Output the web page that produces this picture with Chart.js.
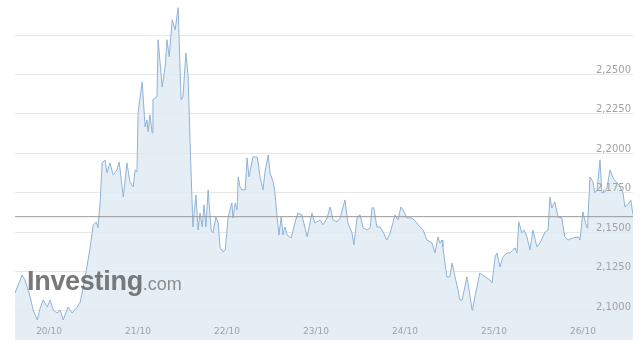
<!DOCTYPE html>
<html>
<head>
<meta charset="utf-8">
<script src="https://cdn.jsdelivr.net/npm/chart.js@4.4.1/dist/chart.umd.min.js"></script>
<style>
  html, body { margin: 0; padding: 0; background: #fff; }
  #wrap { position: relative; width: 640px; height: 354px; }
  #mark { position: absolute; left: 27px; top: 268px; line-height: 27px; white-space: nowrap;
          font-family: "Liberation Sans", Arial, sans-serif; pointer-events: none; }
  #mark .big { font-size: 27px; font-weight: bold; color: rgba(105,105,105,0.9); letter-spacing: -0.3px; }
  #mark .small { font-size: 18px; color: rgba(130,130,130,0.9); }
</style>
</head>
<body>
<div id="wrap">
  <canvas id="chart" width="640" height="354"></canvas>
  <div id="mark"><span class="big">Investing</span><span class="small">.com</span></div>
</div>
<script>
// hours from 20/10 00:00
const hours = [
  -9.2, -7.8, -7.3, -6.5, -5.9, -5.1, -4.3, -3.2, -2.4, -1.6, -0.5, 0.3, 1.1, 2.2, 3.0, 3.8,
  5.1, 6.2, 7.6, 8.4, 9.2, 10.2, 11.1, 11.9, 12.7, 13.2, 13.8, 14.3, 15.1, 15.6, 16.4, 17.3,
  18.3, 18.9, 20.0, 21.0, 21.8, 22.7, 23.2, 23.7, 24.0, 25.1, 25.9, 26.4, 26.7, 27.2, 27.8, 28.0,
  29.1, 29.4, 30.5, 31.3, 31.8, 32.4, 33.2, 34.0, 34.8, 35.6, 36.1, 36.9, 37.5, 38.0, 38.8, 39.6,
  40.2, 40.7, 41.3, 41.8, 42.3, 42.9, 43.7, 44.2, 45.0, 45.6, 46.1, 46.9, 47.5, 48.3, 49.3, 49.6,
  50.2, 50.7, 51.0, 51.5, 52.0, 52.9, 53.4, 53.9, 55.0, 56.1, 56.4, 56.9, 57.7, 58.2, 59.1, 59.6,
  60.4, 60.9, 61.5, 62.0, 62.6, 63.1, 63.6, 64.2, 65.3, 66.3, 67.1, 68.2, 69.6, 70.9, 71.7, 73.1,
  73.9, 75.0, 75.8, 76.6, 77.7, 78.5, 79.8, 80.6, 81.7, 82.2, 83.1, 83.9, 84.7, 85.8, 86.6, 87.1,
  87.6, 88.4, 89.3, 90.1, 91.1, 92.0, 93.3, 94.1, 94.9, 95.5, 96.5, 97.9, 99.2, 100.0, 100.9, 101.9,
  103.3, 104.1, 104.9, 105.4, 106.0, 106.2, 107.3, 108.1, 108.7, 109.5, 110.3, 110.8, 111.4, 112.7, 113.3, 114.1,
  114.3, 115.4, 116.2, 117.6, 118.9, 119.5, 120.3, 120.8, 121.6, 122.4, 123.5, 124.3, 125.1, 125.7, 126.2, 126.7,
  127.5, 128.1, 128.9, 129.7, 130.5, 131.6, 132.4, 133.8, 134.6, 135.1, 135.6, 136.4, 137.3, 138.3, 139.1, 140.0,
  141.3, 142.7, 143.2, 144.0, 144.5, 145.1, 145.3, 145.9, 146.7, 147.2, 147.8, 148.6, 149.1, 149.9, 150.5, 151.3,
  152.1, 153.2, 154.0, 154.8, 155.3, 156.1, 156.9, 157.5
];

const prices = [
  2.1114, 2.1197, 2.1228, 2.1197, 2.1152, 2.1089, 2.1006, 2.0943, 2.1019, 2.1070, 2.1025, 2.1070, 2.1006, 2.0987, 2.1006, 2.0943,
  2.1025, 2.0987, 2.1025, 2.1057, 2.1152, 2.1279, 2.1406, 2.1546, 2.1565, 2.1527, 2.1704, 2.1939, 2.1958, 2.1876, 2.1939, 2.1863,
  2.1895, 2.1945, 2.1723, 2.1939, 2.1819, 2.1787, 2.1895, 2.1882, 2.2256, 2.2453, 2.2167, 2.2212, 2.2136, 2.2244, 2.2129, 2.2339,
  2.2358, 2.2720, 2.2421, 2.2548, 2.2720, 2.2612, 2.2846, 2.2783, 2.2923, 2.2339, 2.2358, 2.2637, 2.2485, 2.2085, 2.1533, 2.1736,
  2.1514, 2.1622, 2.1533, 2.1673, 2.1533, 2.1768, 2.1514, 2.1495, 2.1596, 2.1558, 2.1406, 2.1374, 2.1387, 2.1596, 2.1685, 2.1590,
  2.1685, 2.1641, 2.1850, 2.1787, 2.1768, 2.1768, 2.1971, 2.1850, 2.1977, 2.1977, 2.1939, 2.1850, 2.1768, 2.1876, 2.1990, 2.1876,
  2.1819, 2.1755, 2.1596, 2.1482, 2.1596, 2.1482, 2.1533, 2.1482, 2.1463, 2.1558, 2.1622, 2.1609, 2.1470, 2.1622, 2.1558, 2.1577,
  2.1546, 2.1590, 2.1660, 2.1577, 2.1565, 2.1590, 2.1704, 2.1558, 2.1495, 2.1419, 2.1596, 2.1609, 2.1527, 2.1514, 2.1527, 2.1654,
  2.1654, 2.1533, 2.1533, 2.1501, 2.1450, 2.1495, 2.1609, 2.1577, 2.1660, 2.1641, 2.1590, 2.1590, 2.1558, 2.1533, 2.1514, 2.1450,
  2.1431, 2.1368, 2.1470, 2.1431, 2.1450, 2.1406, 2.1216, 2.1216, 2.1305, 2.1216, 2.1133, 2.1070, 2.1070, 2.1216, 2.1133, 2.1006,
  2.1025, 2.1152, 2.1241, 2.1216, 2.1197, 2.1178, 2.1343, 2.1368, 2.1279, 2.1343, 2.1368, 2.1368, 2.1387, 2.1400, 2.1368, 2.1565,
  2.1495, 2.1514, 2.1470, 2.1387, 2.1514, 2.1406, 2.1431, 2.1501, 2.1514, 2.1723, 2.1654, 2.1692, 2.1596, 2.1590, 2.1470, 2.1450,
  2.1463, 2.1470, 2.1450, 2.1628, 2.1577, 2.1527, 2.1565, 2.1850, 2.1819, 2.1749, 2.1768, 2.1958, 2.1749, 2.1755, 2.1780, 2.1895,
  2.1844, 2.1812, 2.1787, 2.1749, 2.1660, 2.1673, 2.1704, 2.1609
];

const dayLabels = ['20/10', '21/10', '22/10', '23/10', '24/10', '25/10', '26/10'];
const currentPrice = 2.1598;

const xMin = -9.2;
const xMax = 157.5;
const yMin = 2.0816;
const yMax = 2.2972;

const series = hours.map((h, i) => ({ x: h, y: prices[i] }));

new Chart(document.getElementById('chart'), {
  type: 'line',
  data: {
    datasets: [
      {
        data: [{ x: xMin, y: currentPrice }, { x: xMax, y: currentPrice }],
        borderColor: '#9a9a9a',
        borderWidth: 1,
        pointRadius: 0,
        fill: false
      },
      {
        data: series,
        borderColor: '#8fb3d6',
        backgroundColor: 'rgba(222, 232, 242, 0.8)',
        borderWidth: 1,
        pointRadius: 0,
        tension: 0,
        fill: 'start'
      }
    ]
  },
  options: {
    responsive: false,
    devicePixelRatio: 1,
    animation: false,
    layout: { padding: { left: 15, right: 0, top: 0, bottom: 0 } },
    plugins: { legend: { display: false }, tooltip: { enabled: false } },
    scales: {
      x: {
        type: 'linear',
        min: xMin,
        max: xMax,
        grid: { display: false, drawTicks: false },
        border: { display: false },
        afterFit: scale => {
          scale.height = 14;
          scale.paddingLeft = 0;
          scale.paddingRight = 0;
        },
        ticks: {
          z: 1,
          mirror: true,
          stepSize: 24,
          includeBounds: false,
          autoSkip: false,
          maxRotation: 0,
          padding: 3,
          color: '#a3a3a3',
          font: { family: 'DejaVu Sans', size: 9 },
          callback: v => dayLabels[v / 24] || ''
        }
      },
      y: {
        position: 'right',
        min: yMin,
        max: yMax,
        grid: { color: '#e8e8e8', drawTicks: false },
        border: { display: false },
        afterFit: scale => {
          scale.width = 7;
          scale.paddingTop = 0;
          scale.paddingBottom = 0;
        },
        ticks: {
          z: 1,
          stepSize: 0.025,
          includeBounds: false,
          mirror: true,
          padding: -2,
          labelOffset: -4,
          color: '#a3a3a3',
          font: { family: 'DejaVu Sans', size: 10 },
          callback: v => v > 2.26 ? '' : v.toFixed(4).replace('.', ',')
        }
      }
    }
  }
});
</script>
</body>
</html>
